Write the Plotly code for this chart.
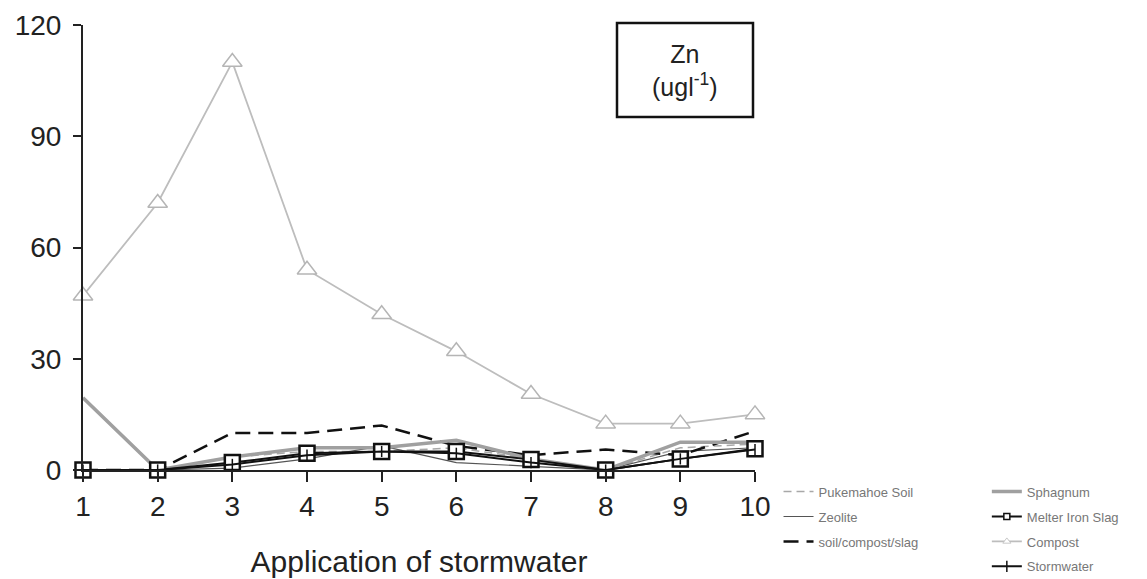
import plotly.graph_objects as go

# Application number (x) and Zn concentration (ug/l) per treatment
applications = [1, 2, 3, 4, 5, 6, 7, 8, 9, 10]

pukemahoe_soil = [0, 0, 3.5, 5, 5, 6, 3, 0, 6, 7]
zeolite = [0, 0, 0.5, 3, 6.5, 2, 1, 0, 5, 6]
soil_compost_slag = [0, 0, 10, 10, 12, 6.5, 4, 5.5, 4, 10.5]
sphagnum = [19.5, 0, 3.5, 6, 6, 8, 3, 0, 7.5, 7.5]
melter_iron_slag = [0, 0, 2, 4.5, 5, 5, 2.8, 0, 3, 5.7]
compost = [47, 72, 110, 54, 42, 32, 20.5, 12.5, 12.5, 15]
stormwater = [0, 0, 1.5, 4, 5, 4.5, 2, 0, 3, 5.5]

x_ticks = [1, 2, 3, 4, 5, 6, 7, 8, 9, 10]
y_ticks = [0, 30, 60, 90, 120]

FONT = "Liberation Sans, Arial, sans-serif"

# (name, values, line style, marker style in plot, marker style in legend, legend column)
series = [
    ("Pukemahoe Soil", pukemahoe_soil, dict(color="#a8a8a8", width=1.5, dash="8px,5px"),
     None, None, "legend"),
    ("Zeolite", zeolite, dict(color="#555555", width=1.2), None, None, "legend"),
    ("soil/compost/slag", soil_compost_slag, dict(color="#111111", width=2.5, dash="15px,8px"),
     None, None, "legend"),
    ("Sphagnum", sphagnum, dict(color="#a0a0a0", width=3.5), None, None, "legend2"),
    ("Melter Iron Slag", melter_iron_slag, dict(color="#111111", width=2),
     dict(symbol="square", size=15, color="white", line=dict(color="#111111", width=2.5)),
     dict(symbol="square", size=6, color="white", line=dict(color="#111111", width=1.5)),
     "legend2"),
    ("Compost", compost, dict(color="#bdbdbd", width=1.8),
     dict(symbol="triangle-up", size=17, color="white", line=dict(color="#b5b5b5", width=1.5)),
     dict(symbol="triangle-up", size=7, color="white", line=dict(color="#c8c8c8", width=1)),
     "legend2"),
    ("Stormwater", stormwater, dict(color="#111111", width=2),
     dict(symbol="line-ns-open", size=8, line=dict(color="#111111", width=1.5)),
     dict(symbol="line-ns-open", size=8, line=dict(color="#111111", width=1.5)),
     "legend2"),
]

fig = go.Figure()

for name, values, line, marker, legend_marker, legend_id in series:
    mode = "lines+markers" if marker else "lines"
    fig.add_trace(go.Scatter(x=applications, y=values, name=name, mode=mode,
                             line=line, marker=marker, showlegend=False,
                             cliponaxis=False))

# legend entries with compact symbols, one group each so the rows can be spaced out
for name, values, line, marker, legend_marker, legend_id in series:
    mode = "lines+markers" if legend_marker else "lines"
    fig.add_trace(go.Scatter(x=[None], y=[None], name=name, mode=mode, line=line,
                             marker=legend_marker, legend=legend_id, legendgroup=name,
                             showlegend=True))

legend_font = dict(family=FONT, size=13, color="#777777")

fig.update_layout(
    width=1147, height=579,
    margin=dict(l=83, r=392, t=25, b=109, autoexpand=False),
    paper_bgcolor="white", plot_bgcolor="white",
    font=dict(family=FONT, size=28, color="#222222"),
    legend=dict(x=1.035, y=-0.015, xanchor="left", yanchor="top",
                font=legend_font, bgcolor="rgba(0,0,0,0)", tracegroupgap=5,
                itemwidth=30),
    legend2=dict(x=1.345, y=-0.015, xanchor="left", yanchor="top",
                 font=legend_font, bgcolor="rgba(0,0,0,0)", tracegroupgap=5,
                 itemwidth=30),
    xaxis=dict(range=[1, 10], tickvals=x_ticks, ticktext=[str(v) for v in x_ticks],
               showgrid=False, zeroline=False, showline=True, linecolor="#222222",
               linewidth=2, ticks="outside", ticklen=10, tickwidth=2, tickcolor="#222222",
               tickfont=dict(size=28, color="#222222"), automargin=False,
               title=dict(text="Application of stormwater", font=dict(size=30, color="#222222"),
                          standoff=30)),
    yaxis=dict(range=[0, 120], tickvals=y_ticks, showgrid=False, zeroline=False,
               showline=True, linecolor="#222222", linewidth=2, ticks="outside",
               ticklen=8, tickwidth=2, tickcolor="#222222", ticklabelstandoff=6,
               tickfont=dict(size=28, color="#222222"), automargin=False),
)

# boxed unit label in the upper right of the plot
fig.add_shape(type="rect", xref="paper", yref="paper",
              x0=(617 - 83) / 672, x1=(753 - 83) / 672,
              y0=(470 - 117) / 445, y1=(470 - 23) / 445,
              line=dict(color="#111111", width=2.5), fillcolor="white")
fig.add_annotation(xref="paper", yref="paper", x=(685 - 83) / 672, y=(470 - 70) / 445,
                   xanchor="center", yanchor="middle", align="center",
                   text="Zn<br>(ugl<sup>-1</sup>)", showarrow=False,
                   font=dict(size=25, color="#222222"))

fig.write_html("out.html")
